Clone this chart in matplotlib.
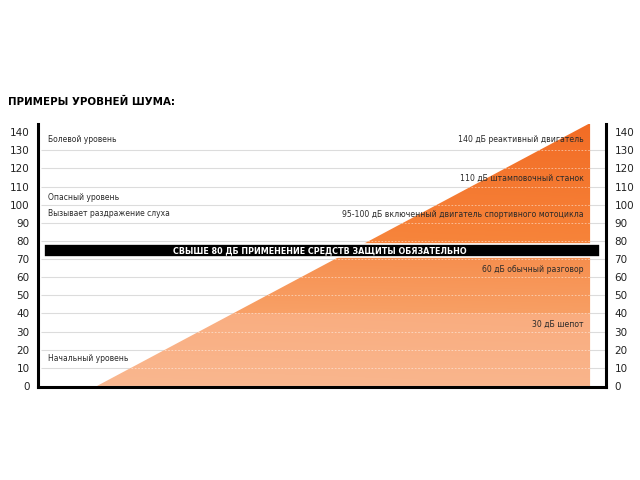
import numpy as np
import matplotlib
matplotlib.use("Agg")
import matplotlib.pyplot as plt
from matplotlib.patches import Polygon, Rectangle
from matplotlib.colors import to_rgb

# ---- data ----
title = "ПРИМЕРЫ УРОВНЕЙ ШУМА:"
ticks = list(range(0, 150, 10))
grid_levels = list(range(10, 140, 10))
ramp_x = [10.4, 97.2]          # horizontal extent of the noise ramp
ramp_db = [0, 145]             # dB at start and apex
band_edges = [0, 40, 78, 145]  # colour band limits (dB)
banner_db = [71, 78.2]
banner_text = "СВЫШЕ 80 ДБ ПРИМЕНЕНИЕ СРЕДСТВ ЗАЩИТЫ ОБЯЗАТЕЛЬНО"
left_labels = ["Болевой уровень", "Опасный уровень",
               "Вызывает раздражение слуха", "Начальный уровень"]
left_label_db = [135.7, 103.8, 95.0, 15.0]
right_labels = ["140 дБ реактивный двигатель", "110 дБ штамповочный станок",
                "95-100 дБ включенный двигатель спортивного мотоцикла",
                "60 дБ обычный разговор", "30 дБ шепот"]
right_label_db = [135.7, 114.3, 94.5, 64.2, 33.8]

fig = plt.figure(figsize=(6.4, 4.8), dpi=100)
fig.patch.set_facecolor("white")
ax = fig.add_axes([38/640, 1-387/480, (606-38)/640, (387-124)/480])
ax.set_xlim(0, 100)
ax.set_ylim(-0.6, 144.5)

# grey gridlines
ax.hlines(grid_levels, 0.5, 100, colors="#dcdcdc", lw=0.8, zorder=1)

# triangle with banded gradient
tri = Polygon([(ramp_x[0], ramp_db[0]), (ramp_x[1], ramp_db[1]), (ramp_x[1], ramp_db[0])],
              closed=True, facecolor="none", edgecolor="none")
ax.add_patch(tri)
ny, nx = 600, 200
yy = np.linspace(ramp_db[0], ramp_db[1], ny)
xx = np.linspace(0, 1, nx)
img = np.zeros((ny, nx, 3))
anch = [
    (to_rgb("#f9b58c"), to_rgb("#f9ac7e")),
    (to_rgb("#f89f64"), to_rgb("#f68a48")),
    (to_rgb("#f7843a"), to_rgb("#f26c25")),
]
for i in range(3):
    lo, hi = band_edges[i], band_edges[i+1]
    m = (yy >= lo) & (yy <= hi)
    t = (yy[m] - lo) / (hi - lo)
    c0, c1 = np.array(anch[i][0]), np.array(anch[i][1])
    col = c0[None, :] * (1 - t[:, None]) + c1[None, :] * t[:, None]
    hshade = (1 - 0.03 * (1 - xx))[None, :, None]
    img[m] = np.clip(col[:, None, :] * hshade + 0.03 * (1 - xx)[None, :, None], 0, 1)
im = ax.imshow(img, extent=[ramp_x[0], ramp_x[1], ramp_db[0], ramp_db[1]],
               origin="lower", aspect="auto", zorder=2, interpolation="bilinear")
im.set_clip_path(tri)

# white dashed gridlines over the ramp
gl = ax.hlines(grid_levels, 0.5, 100, colors="white", lw=0.6, alpha=0.55,
               linestyles=(0, (2, 2)), zorder=3)
gl.set_clip_path(tri)

# banner
ax.add_patch(Rectangle((1.06, banner_db[0]), 97.84, banner_db[1]-banner_db[0],
                       facecolor="black", edgecolor="white", lw=1.2, zorder=4))
ax.text(49.6, (banner_db[0]+banner_db[1])/2, banner_text, color="white",
        fontsize=5.8, fontweight="bold", ha="center", va="center", zorder=5)

for lab, y in zip(left_labels, left_label_db):
    ax.text(1.8, y, lab, fontsize=5.5, color="#2a2a2a", ha="left", va="center", zorder=5)
for lab, y in zip(right_labels, right_label_db):
    ax.text(96.1, y, lab, fontsize=5.6, color="#2a2a2a", ha="right", va="center", zorder=5)

# axes styling
ax.spines["top"].set_visible(False)
for s in ["left", "bottom", "right"]:
    ax.spines[s].set_linewidth(2.2)
    ax.spines[s].set_color("black")
    ax.spines[s].set_zorder(6)
ax.set_xticks([])
ax.set_yticks(ticks)
ax.set_yticklabels([str(t) for t in ticks])
ax.tick_params(axis="y", length=0, labelleft=True, labelright=True, pad=6,
               labelsize=7.5, labelcolor="#222222")

fig.text(8/640, 1-102/480, title, fontsize=7.4, fontweight="heavy", color="black",
         ha="left", va="center")

fig.savefig("out.png", dpi=100, facecolor="white")
